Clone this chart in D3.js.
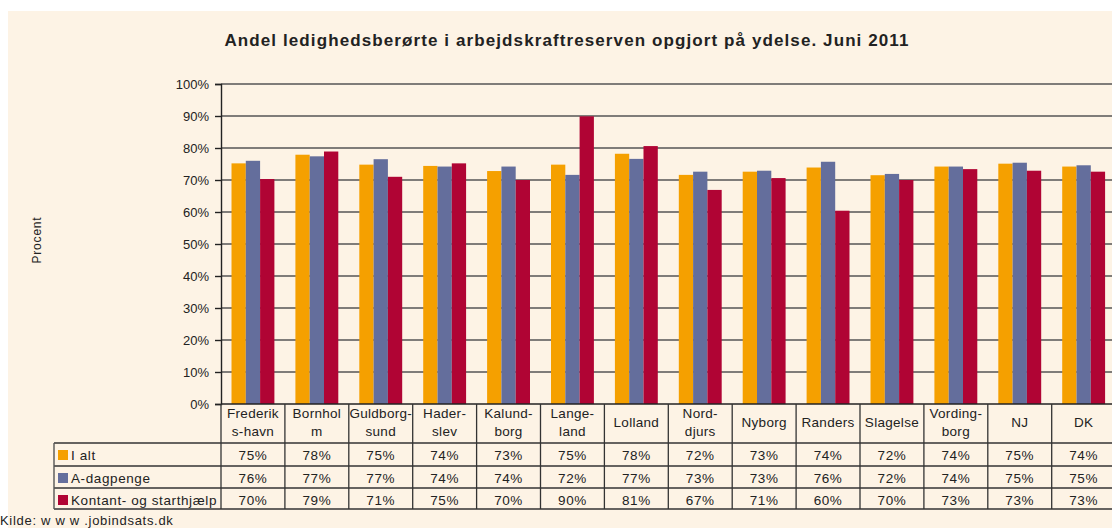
<!DOCTYPE html>
<html>
<head>
<meta charset="utf-8">
<title>Andel ledighedsberørte</title>
<style>
  body { margin: 0; background: #fff; }
  svg text { font-family: "Liberation Sans", Arial, sans-serif; fill: #222; }
</style>
<script src="https://cdn.jsdelivr.net/npm/d3@7"></script>
</head>
<body>
<script>
var categories = ["Frederiks-havn", "Bornholm", "Guldborgsund", "Haderslev", "Kalundborg", "Langeland",
  "Lolland", "Norddjurs", "Nyborg", "Randers", "Slagelse", "Vordingborg", "NJ", "DK"]
var catLines = [["Frederik", "s-havn"], ["Bornhol", "m"], ["Guldborg-", "sund"], ["Hader-", "slev"],
  ["Kalund-", "borg"], ["Lange-", "land"], ["Lolland"], ["Nord-", "djurs"], ["Nyborg"], ["Randers"],
  ["Slagelse"], ["Vording-", "borg"], ["NJ"], ["DK"]]
var seriesNames = ["I alt", "A-dagpenge", "Kontant- og starthjælp"]
var seriesColors = ["#f5a000", "#646e9c", "#b00434"]
var iAlt = [75.2, 77.9, 74.8, 74.4, 72.8, 74.8, 78.2, 71.6, 72.6, 73.9, 71.5, 74.2, 75.1, 74.2]
var aDagpenge = [76.0, 77.4, 76.5, 74.2, 74.2, 71.6, 76.6, 72.6, 72.9, 75.7, 71.9, 74.2, 75.4, 74.6]
var kontant = [70.3, 78.9, 71.0, 75.2, 70.0, 89.9, 80.6, 66.9, 70.6, 60.4, 70.0, 73.4, 72.9, 72.6]
var yTicks = [0, 0.1, 0.2, 0.3, 0.4, 0.5, 0.6, 0.7, 0.8, 0.9, 1.0]

var series = [iAlt, aDagpenge, kontant]

var width = 1112, height = 528
var plotLeft = 221, colW = 63.9, plotTop = 84, base = 404
var rowY = [404, 443, 466, 488, 509]

var svg = d3.select("body").append("svg")
  .attr("width", width)
  .attr("height", height)

svg.append("rect").attr("x", 8).attr("y", 11)
  .attr("width", width - 8).attr("height", height - 11)
  .attr("fill", "#fdf3e5")

svg.append("text")
  .attr("x", 567).attr("y", 46)
  .attr("text-anchor", "middle")
  .attr("font-size", 17).attr("font-weight", "bold")
  .attr("letter-spacing", 1.1)
  .text("Andel ledighedsberørte i arbejdskraftreserven opgjort på ydelse. Juni 2011")

var x = d3.scaleBand().domain(categories).range([plotLeft, plotLeft + colW * categories.length])
var xs = d3.scaleBand().domain(seriesNames).range([0, colW]).paddingOuter(0.735)
var y = d3.scaleLinear().domain([0, 1]).range([base, plotTop])

// gridlines
svg.append("g").selectAll("line").data(yTicks.slice(1)).join("line")
  .attr("x1", plotLeft).attr("x2", width)
  .attr("y1", d => y(d)).attr("y2", d => y(d))
  .attr("stroke", "#555").attr("stroke-width", 1.4)

// bars
var groups = svg.append("g").selectAll("g").data(categories).join("g")
  .attr("transform", d => "translate(" + x(d) + ",0)")
groups.selectAll("rect")
  .data((c, i) => series.map((s, k) => ({ name: seriesNames[k], v: s[i] / 100, color: seriesColors[k] })))
  .join("rect")
  .attr("x", d => xs(d.name))
  .attr("width", xs.bandwidth())
  .attr("y", d => y(d.v))
  .attr("height", d => base - y(d.v))
  .attr("fill", d => d.color)

// y axis
var yAxis = svg.append("g")
  .attr("transform", "translate(" + plotLeft + ",0)")
  .call(d3.axisLeft(y).tickValues(yTicks).tickFormat(d3.format(".0%")).tickSize(6).tickPadding(6))
yAxis.select(".domain").attr("stroke", "#222").attr("stroke-width", 1.4)
yAxis.selectAll(".tick line").attr("stroke", "#222").attr("stroke-width", 1.4)
yAxis.selectAll(".tick text").attr("font-size", 13).attr("font-family", "Liberation Sans, Arial, sans-serif").attr("fill", "#222")

svg.append("text")
  .attr("transform", "translate(41,240) rotate(-90)")
  .attr("text-anchor", "middle")
  .attr("font-size", 12).attr("letter-spacing", 0.8)
  .text("Procent")

// table
var tbl = svg.append("g")
var right = plotLeft + colW * categories.length
tbl.append("line").attr("x1", plotLeft).attr("x2", right).attr("y1", base).attr("y2", base)
  .attr("stroke", "#222").attr("stroke-width", 1.4)
rowY.slice(1).forEach(function (ry) {
  tbl.append("line").attr("x1", 54).attr("x2", right).attr("y1", ry).attr("y2", ry)
    .attr("stroke", "#333").attr("stroke-width", 1.3)
})
tbl.append("line").attr("x1", 54).attr("x2", 54).attr("y1", rowY[1]).attr("y2", rowY[4])
  .attr("stroke", "#555").attr("stroke-width", 1.4)
categories.forEach(function (c, i) {
  tbl.append("line").attr("x1", x(c)).attr("x2", x(c)).attr("y1", base).attr("y2", rowY[4])
    .attr("stroke", "#333").attr("stroke-width", 1.3)
  var cx = x(c) + colW / 2
  var lines = catLines[i]
  lines.forEach(function (t, j) {
    tbl.append("text")
      .attr("x", cx)
      .attr("y", lines.length === 1 ? 427 : 418 + j * 18)
      .attr("text-anchor", "middle")
      .attr("font-size", 13.5).attr("letter-spacing", 0.3)
      .text(t)
  })
  series.forEach(function (s, k) {
    tbl.append("text")
      .attr("x", cx).attr("y", rowY[k + 1] + 17)
      .attr("text-anchor", "middle")
      .attr("font-size", 13.5).attr("letter-spacing", 0.6)
      .text(Math.round(s[i]) + "%")
  })
})
seriesNames.forEach(function (n, k) {
  tbl.append("rect").attr("x", 58).attr("y", rowY[k + 1] + 7)
    .attr("width", 10).attr("height", 10).attr("fill", seriesColors[k])
  tbl.append("text").attr("x", 71).attr("y", rowY[k + 1] + 16.5)
    .attr("font-size", 13.5).attr("letter-spacing", 0.6).text(n)
})

svg.append("text").attr("x", 0).attr("y", 525)
  .attr("font-size", 13).attr("letter-spacing", 0.7)
  .text("Kilde: w w w .jobindsats.dk")
</script>
</body>
</html>
